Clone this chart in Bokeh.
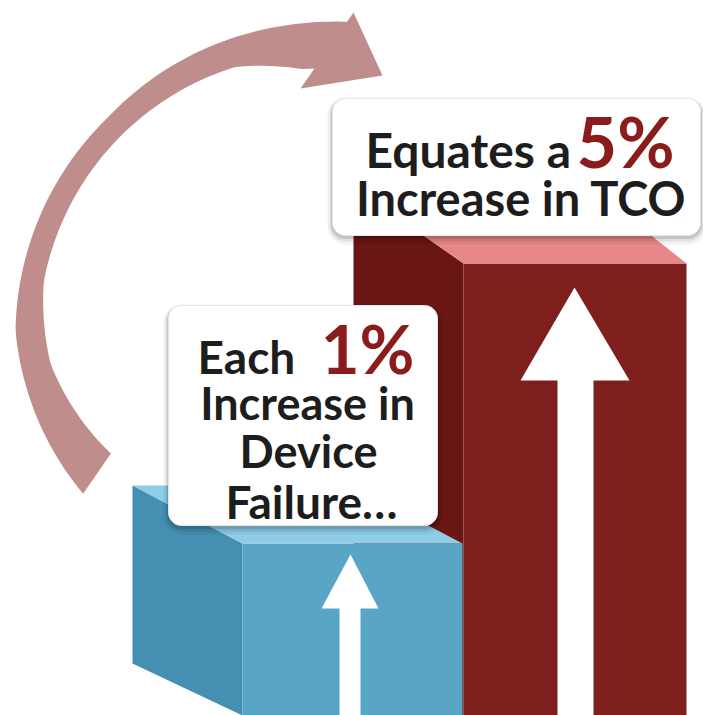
import numpy as np
from bokeh.plotting import figure
from bokeh.models import Range1d
from bokeh.core.properties import value
from bokeh.embed import file_html
from bokeh.resources import INLINE

# ---------------- data ----------------
categories = ["Device Failure", "TCO"]
increase_pct = [1, 5]
box_low_lines = ["Each", "Increase in", "Device", "Failure…"]
box_high_lines = ["Equates a", "Increase in TCO"]

# ---------------- style / layout ----------------
FONT = value("Lato")
TXT = "#1d1d1d"
RED_TXT = "#8a1c1c"
ARROW_C = "#c08d8d"
BLUE_SIDE, BLUE_FRONT, BLUE_TOP = "#4590b2", "#58a5c6", "#8fcde7"
RED_SIDE, RED_FRONT, RED_TOP = "#691614", "#7e1f1d", "#e8878a"
BASE_SHIFT = 0.38  # svg text baseline correction (fraction of font size)

p = figure(width=703, height=715, output_backend="svg", toolbar_location=None,
           x_range=Range1d(0, 703), y_range=Range1d(715, 0),
           x_axis_type=None, y_axis_type=None, min_border=0)
p.grid.visible = False
p.outline_line_color = None
p.background_fill_color = "white"
p.border_fill_color = "white"


def rrect(x0, y0, x1, y1, r, n=10):
    xs, ys = [], []
    corners = [(x1 - r, y0 + r, -90, 0), (x1 - r, y1 - r, 0, 90),
               (x0 + r, y1 - r, 90, 180), (x0 + r, y0 + r, 180, 270)]
    for cx, cy, a0, a1 in corners:
        for a in np.linspace(np.radians(a0), np.radians(a1), n):
            xs.append(cx + r * np.cos(a))
            ys.append(cy + r * np.sin(a))
    return xs, ys


def box(x0, y0, x1, y1, r=13):
    for grow, dy, alpha in [(5, 4, 0.05), (3, 3, 0.08), (1.5, 2, 0.12)]:
        xs, ys = rrect(x0 - grow, y0 - grow + dy, x1 + grow, y1 + grow + dy, r + grow)
        p.patch(xs, ys, fill_color="black", fill_alpha=alpha, line_color=None)
    xs, ys = rrect(x0, y0, x1, y1, r)
    p.patch(xs, ys, fill_color="white", line_color="#e6e6e6", line_width=1)


def label(x, baseline, txt, size, color, align):
    p.text(x=[x], y=[baseline - BASE_SHIFT * size], text=[txt], text_font=FONT,
           text_font_style="bold", text_font_size=f"{size}px", text_color=color,
           text_align=align, text_baseline="alphabetic")


# ---------------- curved arrow ----------------
cx, cy = 320, 330
t_out = np.linspace(84, 214.5, 90)
r_out = np.interp(t_out, [84, 97, 135, 180, 214.5], [310, 307, 301, 305, 288])
t_in = np.linspace(210.4, 84, 90)
r_in = np.interp(t_in, [84, 94, 108, 170, 187, 210.4], [262, 262, 277, 281, 272, 243])
ax = np.concatenate([cx + r_out * np.cos(np.radians(t_out)), cx + r_in * np.cos(np.radians(t_in))])
ay = np.concatenate([cy - r_out * np.sin(np.radians(t_out)), cy - r_in * np.sin(np.radians(t_in))])
p.patch(ax, ay, fill_color=ARROW_C, line_color=None)
p.patch([353, 382, 300], [12, 75, 88], fill_color=ARROW_C, line_color=None)

# ---------------- red (TCO) bar ----------------
p.patch([353, 463, 463, 353], [186, 263, 715, 715], fill_color=RED_SIDE, line_color=None)
p.patch([463, 686, 686, 463], [263, 263, 715, 715], fill_color=RED_FRONT, line_color=None)
p.patch([353, 589, 686, 463], [186, 186, 263, 263], fill_color=RED_TOP, line_color=None)
p.patch([574, 629, 593, 593, 557, 557, 520], [287, 380, 380, 715, 715, 380, 380],
        fill_color="white", line_color=None)

# box for TCO
box(332, 98, 700, 235)
label(365, 167, box_high_lines[0], 48, TXT, "left")
label(674, 167, f"{increase_pct[1]}%", 70, RED_TXT, "right")
label(521, 215, box_high_lines[1], 47, TXT, "center")

# ---------------- blue (device failure) bar ----------------
p.patch([132, 242, 242, 132], [485, 543, 715, 663], fill_color=BLUE_SIDE, line_color=None)
p.patch([242, 462, 462, 242], [543, 543, 715, 715], fill_color=BLUE_FRONT, line_color=None)
p.patch([132, 352, 462, 242], [485, 485, 543, 543], fill_color=BLUE_TOP, line_color=None)
p.patch([350, 378, 360, 360, 339, 339, 321], [554, 608, 608, 715, 715, 608, 608],
        fill_color="white", line_color=None)

# box for device failure
box(168, 305, 437, 525)
label(197, 373, box_low_lines[0], 46, TXT, "left")
label(414, 373, f"{increase_pct[0]}%", 67, RED_TXT, "right")
label(307, 420, box_low_lines[1], 45, TXT, "center")
label(308, 468, box_low_lines[2], 45, TXT, "center")
label(311, 518, box_low_lines[3], 46, TXT, "center")

open("out.html", "w").write(file_html(p, INLINE))
